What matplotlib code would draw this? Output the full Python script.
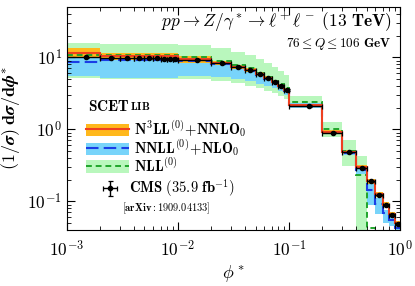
import numpy as np
import matplotlib
matplotlib.use("Agg")
import matplotlib.pyplot as plt
from matplotlib.patches import Patch
from matplotlib.lines import Line2D
from matplotlib.ticker import FuncFormatter, LogLocator

plt.rcParams['mathtext.fontset'] = 'cm'
plt.rcParams['font.family'] = 'serif'
plt.rcParams['font.serif'] = ['DejaVu Serif']

# theory binning
edges = [0.001, 0.002, 0.01, 0.02, 0.03, 0.04, 0.05, 0.06, 0.07, 0.08, 0.09,
         0.1, 0.2, 0.3, 0.4, 0.5, 0.6, 0.7, 0.8, 0.9, 1.0]

n3ll = [11.4, 10.5, 9.4, 8.3, 7.4, 6.6, 5.8, 5.1, 4.55, 4.0, 3.5,
        2.15, 0.92, 0.48, 0.30, 0.19, 0.125, 0.09, 0.067, 0.05]
n3ll_lo = [9.7, 9.1, 8.4, 7.7, 6.9, 6.2, 5.45, 4.8, 4.3, 3.8, 3.3,
           2.05, 0.87, 0.45, 0.28, 0.175, 0.115, 0.083, 0.062, 0.046]
n3ll_hi = [13.3, 11.3, 10.4, 9.0, 7.9, 7.0, 6.15, 5.4, 4.8, 4.2, 3.7,
           2.25, 0.97, 0.51, 0.32, 0.205, 0.135, 0.097, 0.072, 0.054]

nnll = [8.5, 9.1, 9.0, 8.1, 7.3, 6.5, 5.7, 5.0, 4.5, 3.95, 3.45,
        2.2, 0.92, 0.47, 0.27, 0.145, 0.092, 0.068, 0.055, 0.042]
nnll_lo = [5.5, 5.2, 5.5, 5.3, 5.0, 4.7, 4.3, 4.0, 3.7, 3.4, 3.0,
           2.0, 0.85, 0.44, 0.24, 0.09, 0.067, 0.05, 0.045, 0.036]
nnll_hi = [10.3, 9.8, 9.7, 8.6, 7.7, 6.8, 6.0, 5.3, 4.7, 4.15, 3.6,
           2.3, 0.97, 0.52, 0.31, 0.175, 0.11, 0.075, 0.06, 0.047]

nll = [10.7, 10.7, 10.0, 8.9, 7.9, 7.0, 6.1, 5.35, 4.75, 4.2, 3.7,
       2.36, 1.0, 0.5, 0.23, 0.042, 0.01, 0.01, 0.01, 0.01]
nll_lo = [5.1, 5.0, 5.0, 4.7, 4.4, 4.0, 3.7, 3.4, 3.2, 2.9, 2.65,
          2.0, 0.77, 0.31, 0.02, 0.01, 0.005, 0.005, 0.005, 0.005]
nll_hi = [15.6, 15.2, 14.8, 13.5, 12.0, 10.6, 9.3, 8.2, 7.3, 6.4, 5.6,
          2.9, 1.27, 0.71, 0.42, 0.03, 0.015, 0.015, 0.015, 0.015]

# CMS data binning
data_edges = [0.001, 0.002, 0.003, 0.004, 0.005, 0.006, 0.007, 0.008, 0.009,
              0.01, 0.02, 0.03, 0.04, 0.05, 0.06, 0.07, 0.08, 0.09,
              0.1, 0.2, 0.3, 0.4, 0.5, 0.6, 0.7, 0.8, 0.9, 1.0]
data_val = [10.0, 9.8, 9.7, 9.7, 9.6, 9.6, 9.5, 9.5, 9.4,
            9.2, 8.25, 7.3, 6.6, 5.8, 5.1, 4.55, 4.0, 3.5,
            2.1, 0.9, 0.48, 0.29, 0.19, 0.122, 0.088, 0.065, 0.049]

c_orange = '#ffb81c'
c_red = '#ee4020'
c_lblue = '#78d4fa'
c_blue = '#1a3ee6'
c_lgreen = '#b9f7bd'
c_green = '#1fa52a'

fig = plt.figure(figsize=(4.15, 2.86), dpi=100)
ax = fig.add_axes([0.161, 0.196, 0.803, 0.78])

ax.stairs(nll_hi, edges, baseline=nll_lo, fill=True, color=c_lgreen, lw=0)
ax.stairs(nnll_hi, edges, baseline=nnll_lo, fill=True, color=c_lblue, lw=0)
ax.stairs(n3ll_hi, edges, baseline=n3ll_lo, fill=True, color=c_orange, lw=0)
ax.stairs(nll, edges, baseline=None, color=c_green, lw=1.4, ls=(0, (3, 2)))
ax.stairs(nnll, edges, baseline=None, color=c_blue, lw=1.5, ls=(0, (6, 2.5)))
ax.stairs(n3ll, edges, baseline=None, color=c_red, lw=1.5)

de = np.array(data_edges)
dv = np.array(data_val)
xc = 0.5 * (de[1:] + de[:-1])
xerr = 0.5 * (de[1:] - de[:-1])
eb = ax.errorbar(xc, dv, xerr=xerr, yerr=0.02 * dv, fmt='o', color='k', ms=3,
                 elinewidth=1.0, capsize=1.8, capthick=0.9, zorder=5)

ax.set_xscale('log')
ax.set_yscale('log')
ax.set_xlim(1e-3, 1.0)
ax.set_ylim(0.04, 50)

fmt = FuncFormatter(lambda v, p: r"$\mathbf{10^{%d}}$" % round(np.log10(v)))
ax.xaxis.set_major_formatter(fmt)
ax.yaxis.set_major_formatter(fmt)
ax.yaxis.set_major_locator(LogLocator(base=10, numticks=10))
ax.tick_params(which='both', direction='in', top=True, right=True, labelsize=12.5)
ax.tick_params(which='major', length=6, width=0.8)
ax.tick_params(which='minor', length=3, width=0.6)
ax.tick_params(axis='x', pad=7)

ax.set_xlabel(r"$\phi^*$", fontsize=13, labelpad=2)
ax.set_ylabel(r"$\mathbf{(1/}\boldsymbol{\sigma}\mathbf{)\;d}\boldsymbol{\sigma}"
              r"\mathbf{/d}\boldsymbol{\phi}^{\mathbf{*}}$", fontsize=13)

ax.text(0.975, 0.93, r"$pp\to Z/\gamma^*\to\ell^+\ell^-\ \mathbf{(13\ TeV)}$",
        transform=ax.transAxes, ha='right', va='center', fontsize=12.5)
ax.text(0.975, 0.835, r"$\mathbf{76}\leq Q\leq\mathbf{106\ GeV}$",
        transform=ax.transAxes, ha='right', va='center', fontsize=9.5)

handles = [(Patch(facecolor=c_orange, edgecolor='none'), Line2D([], [], color=c_red, lw=1.5)),
           (Patch(facecolor=c_lblue, edgecolor='none'), Line2D([], [], color=c_blue, lw=1.5, ls=(0, (6, 2.5)))),
           (Patch(facecolor=c_lgreen, edgecolor='none'), Line2D([], [], color=c_green, lw=1.4, ls=(0, (3, 2))))]
labels = [r"$\mathbf{N^3LL^{(0)}\!+\!NNLO_0}$",
          r"$\mathbf{NNLL^{(0)}\!+\!NLO_0}$",
          r"$\mathbf{NLL^{(0)}}$"]
leg1 = ax.legend(handles, labels, loc='upper left', bbox_to_anchor=(0.028, 0.545),
                 frameon=False, fontsize=10.5, handlelength=2.9, handleheight=0.9,
                 handletextpad=0.4, labelspacing=-0.12, borderpad=0.2)
ax.add_artist(leg1)

leg2 = ax.legend([eb], [r"$\mathbf{CMS\ (35.9\ fb^{-1})}$"], loc='upper left',
                 bbox_to_anchor=(0.06, 0.28), frameon=False, fontsize=10.5,
                 handlelength=1.8, handletextpad=0.4, borderpad=0.2)

t1 = ax.text(0.063, 0.552, r"$\mathbf{SCET}$", transform=ax.transAxes,
             ha='left', va='center', fontsize=11)
ax.annotate(r"$\mathbf{LIB}$", xy=(1, 0), xycoords=t1, xytext=(0.3, 1.5),
            textcoords='offset points', ha='left', va='bottom', fontsize=8)
ax.text(0.165, 0.095, r"$\mathbf{[arXiv{:}1909.04133]}$", transform=ax.transAxes,
        ha='left', va='center', fontsize=7.5)

fig.savefig("out.png", dpi=100)
